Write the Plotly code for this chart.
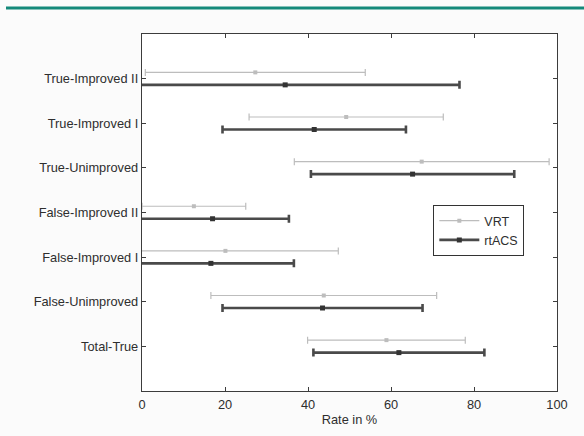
import plotly.graph_objects as go

# Outcome categories, listed bottom to top on the y axis
categories = ["Total-True", "False-Unimproved", "False-Improved I", "False-Improved II",
              "True-Unimproved", "True-Improved I", "True-Improved II"]

# Mean rate (%) and half-width of the interval for each method
vrt_mean = [58.9, 43.8, 20.1, 12.5, 67.4, 49.2, 27.3]
vrt_err = [19.0, 27.2, 27.2, 12.5, 30.7, 23.4, 26.5]
rtacs_mean = [61.9, 43.5, 16.6, 17.0, 65.2, 41.5, 34.5]
rtacs_err = [20.6, 24.1, 20.0, 18.4, 24.5, 22.1, 42.0]

x_ticks = [0, 20, 40, 60, 80, 100]

positions = list(range(1, len(categories) + 1))
offset = 0.14

VRT_COLOR = "#bdbdbd"
RTACS_COLOR = "#4a4a4a"
FONT = "Liberation Sans, Arial, sans-serif"
TEXT_COLOR = "#2e2e2e"

fig = go.Figure()

# VRT intervals, drawn just above each category tick
fig.add_trace(go.Scatter(
    x=vrt_mean, y=[p + offset for p in positions], mode="markers",
    marker=dict(symbol="square", size=4, color=VRT_COLOR),
    error_x=dict(type="data", array=vrt_err, symmetric=True,
                 color=VRT_COLOR, thickness=1.2, width=3.5),
    showlegend=False, name="VRT"))

# rtACS intervals, drawn just below each category tick
fig.add_trace(go.Scatter(
    x=rtacs_mean, y=[p - offset for p in positions], mode="markers",
    marker=dict(symbol="square", size=5, color="#333333"),
    error_x=dict(type="data", array=rtacs_err, symmetric=True,
                 color=RTACS_COLOR, thickness=2.6, width=4),
    showlegend=False, name="rtACS"))

# Legend entries (line with marker)
fig.add_trace(go.Scatter(
    x=[None], y=[None], mode="lines+markers", name="VRT",
    line=dict(color=VRT_COLOR, width=1.2),
    marker=dict(symbol="square", size=4, color=VRT_COLOR)))
fig.add_trace(go.Scatter(
    x=[None], y=[None], mode="lines+markers", name="rtACS",
    line=dict(color=RTACS_COLOR, width=2.6),
    marker=dict(symbol="square", size=5, color="#333333")))

axis_common = dict(
    showline=True, linecolor="#3c3c3c", linewidth=1.4, mirror="ticks",
    ticks="inside", ticklen=4, tickcolor="#3c3c3c", tickwidth=1,
    showgrid=False, zeroline=False,
    tickfont=dict(family=FONT, size=12.8, color=TEXT_COLOR),
)

fig.update_xaxes(
    range=[0, 100], tickvals=x_ticks, ticktext=[str(t) for t in x_ticks],
    title=dict(text="Rate in %", font=dict(family=FONT, size=12.8, color=TEXT_COLOR),
               standoff=4),
    ticklabelstandoff=1,
    **axis_common)
fig.update_yaxes(
    range=[0, len(categories) + 1], tickvals=positions, ticktext=categories,
    ticklabelstandoff=0,
    **axis_common)

fig.update_layout(
    width=584, height=436,
    margin=dict(l=142, r=27, t=34, b=45),
    paper_bgcolor="#fbfbfb", plot_bgcolor="#ffffff",
    font=dict(family=FONT, size=12, color=TEXT_COLOR),
    legend=dict(x=0.702, y=0.521, xanchor="left", yanchor="top",
                bgcolor="#ffffff", bordercolor="#333333", borderwidth=1,
                font=dict(family=FONT, size=12.5, color=TEXT_COLOR),
                tracegroupgap=0, itemwidth=40),
    shapes=[dict(type="line", xref="paper", yref="paper",
                 x0=-142 / 415 + 6 / 415, x1=1 + 27 / 415,
                 y0=1 + 26 / 357, y1=1 + 26 / 357,
                 line=dict(color="#14897a", width=3))],
)

fig.write_html("out.html")
